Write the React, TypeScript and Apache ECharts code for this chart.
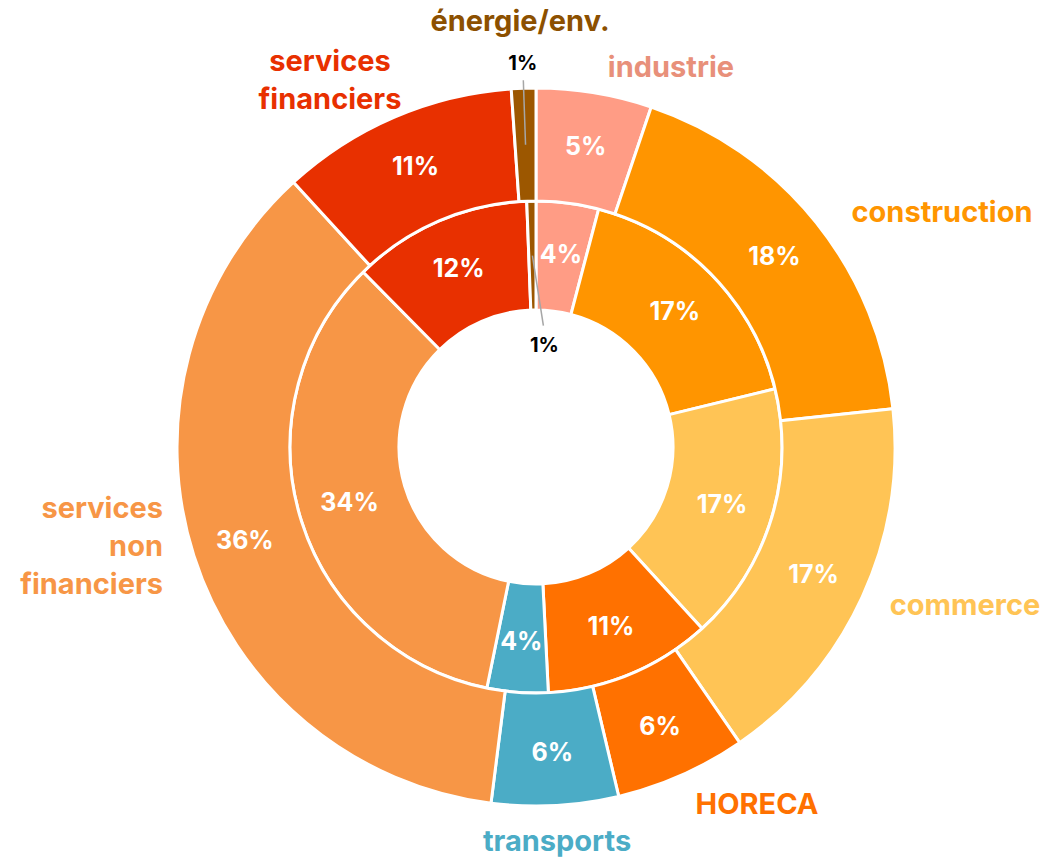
import React, { useEffect, useRef } from 'react';
import * as echarts from 'echarts';

const categories = [
  'industrie',
  'construction',
  'commerce',
  'HORECA',
  'transports',
  'services non financiers',
  'services financiers',
  'énergie/env.',
];
const outerValues = [5.2, 18.1, 17.1, 5.9, 5.7, 36.2, 10.7, 1.1];
const innerValues = [4.1, 17.1, 17.0, 11.0, 4.0, 34.4, 11.8, 0.6];
const sliceColors = ['#FF9C85', '#FF9500', '#FFC455', '#FF7100', '#4BACC6', '#F79646', '#E83000', '#9C5700'];
const nameColors = ['#E8907A', '#FF9500', '#FFC455', '#FF7100', '#4BACC6', '#F79646', '#E83000', '#8C5000'];
const nameLines = [
  'industrie',
  'construction',
  'commerce',
  'HORECA',
  'transports',
  'services\nnon\nfinanciers',
  'services\nfinanciers',
  'énergie/env.',
];

// layout (label anchors)
const namePos: [number, number, string][] = [
  [671, 66, 'center'],
  [942, 211, 'center'],
  [965, 604, 'center'],
  [757, 803, 'center'],
  [557, 840, 'center'],
  [163, 545, 'right'],
  [330, 79, 'center'],
  [520, 20, 'center'],
];

const CX = 536;
const CY = 447;
const R_HOLE = 137;
const R_MID = 246;
const R_OUT = 359;
const FONT = 'Inter, "Open Sans", sans-serif';

function midAngle(values: number[], idx: number) {
  const total = values.reduce((a, b) => a + b, 0);
  let before = 0;
  for (let i = 0; i < idx; i++) before += values[i];
  return ((before + values[idx] / 2) / total) * Math.PI * 2;
}
function polar(r: number, th: number): [number, number] {
  return [CX + r * Math.sin(th), CY - r * Math.cos(th)];
}

export default function App() {
  const ref = useRef<HTMLDivElement>(null);
  useEffect(() => {
    if (!ref.current) return;
    const chart = echarts.init(ref.current, undefined, { renderer: 'svg' });
    const last = categories.length - 1;

    const mkData = (vals: number[]) =>
      vals.map((v, i) => ({
        name: categories[i],
        value: v,
        itemStyle: { color: sliceColors[i] },
        label: i === last ? { show: false } : undefined,
      }));

    const pieBase = {
      type: 'pie' as const,
      center: [CX, CY],
      startAngle: 90,
      clockwise: true,
      avoidLabelOverlap: false,
      silent: true,
      itemStyle: { borderColor: '#ffffff', borderWidth: 3 },
      label: {
        show: true,
        position: 'inside',
        color: '#ffffff',
        fontFamily: FONT,
        fontWeight: 'bold',
        fontSize: 25,
        formatter: (p: any) => Math.round(p.value) + '%',
      },
      labelLine: { show: false },
    };

    // énergie callouts
    const thO = midAngle(outerValues, last);
    const thI = midAngle(innerValues, last);
    const oA = polar((R_MID + R_OUT) / 2, thO);
    const oB = polar(R_OUT + 8, thO);
    const oL = polar(R_OUT + 25, thO);
    const iA = polar((R_HOLE + R_MID) / 2, thI);
    const iB: [number, number] = [iA[0] + 11, iA[1] + 70];
    const iL: [number, number] = [iB[0] + 1, iB[1] + 19];

    const graphics: any[] = [];
    nameLines.forEach((t, i) => {
      const [x, y, align] = namePos[i];
      graphics.push({
        type: 'text',
        x,
        y,
        z: 100,
        silent: true,
        style: {
          text: t,
          fill: nameColors[i],
          fontFamily: FONT,
          fontWeight: 'bold',
          fontSize: 29,
          lineHeight: 38,
          align,
          verticalAlign: 'middle',
        },
      });
    });
    graphics.push(
      { type: 'line', z: 100, silent: true, shape: { x1: oA[0], y1: oA[1], x2: oB[0], y2: oB[1] }, style: { stroke: '#A6A6A6', lineWidth: 1.5 } },
      { type: 'line', z: 100, silent: true, shape: { x1: iA[0], y1: iA[1], x2: iB[0], y2: iB[1] }, style: { stroke: '#A6A6A6', lineWidth: 1.5 } },
      {
        type: 'text', z: 100, silent: true, x: oL[0], y: oL[1],
        style: { text: Math.round(outerValues[last]) + '%', fill: '#000000', fontFamily: FONT, fontWeight: 'bold', fontSize: 20, align: 'center', verticalAlign: 'middle' },
      },
      {
        type: 'text', z: 100, silent: true, x: iL[0], y: iL[1],
        style: { text: Math.round(innerValues[last]) + '%', fill: '#000000', fontFamily: FONT, fontWeight: 'bold', fontSize: 20, align: 'center', verticalAlign: 'middle' },
      }
    );

    chart.setOption({
      animation: false,
      backgroundColor: '#ffffff',
      series: [
        { ...pieBase, name: 'inner', radius: [R_HOLE, R_MID], data: mkData(innerValues) },
        { ...pieBase, name: 'outer', radius: [R_MID, R_OUT], data: mkData(outerValues) },
      ],
      graphic: graphics,
    });
    return () => chart.dispose();
  }, []);
  return (
    <div
      ref={ref}
      style={{ position: 'absolute', left: 0, top: 0, width: 1056, height: 859 }}
    />
  );
}
